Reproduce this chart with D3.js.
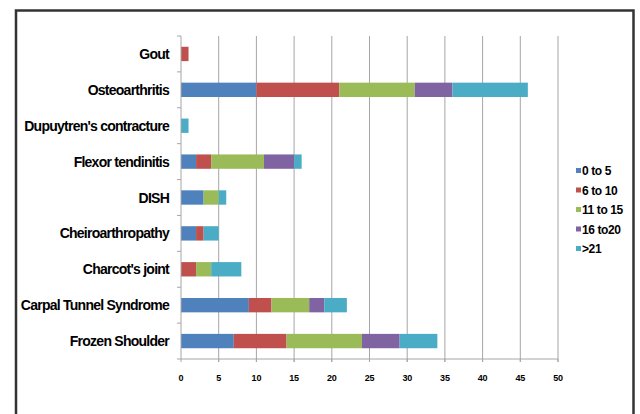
<!DOCTYPE html>
<html>
<head>
<meta charset="utf-8">
<script src="https://cdn.jsdelivr.net/npm/d3@7"></script>
<style>
body{margin:0;background:#fff;}
text{font-family:"Liberation Sans",Arial,sans-serif;font-weight:bold;fill:#000;}
</style>
</head>
<body>
<svg id="chart" width="640" height="414"></svg>
<script>
// categories, top to bottom
var categories = ["Gout","Osteoarthritis","Dupuytren's contracture","Flexor tendinitis","DISH","Cheiroarthropathy","Charcot's joint","Carpal Tunnel Syndrome","Frozen Shoulder"]
var seriesNames = ["0 to 5","6 to 10","11 to 15","16 to20",">21"]
var s0to5   = [0,10,0,2,3,2,0,9,7]
var s6to10  = [1,11,0,2,0,1,2,3,7]
var s11to15 = [0,10,0,7,2,0,2,5,10]
var s16to20 = [0,5,0,4,0,0,0,2,5]
var s21     = [0,10,1,1,1,2,4,3,5]
var xTicks = [0,5,10,15,20,25,30,35,40,45,50]
var colors = ["#4f81bd","#c0504d","#9bbb59","#8064a2","#4bacc6"]

var svg = d3.select("#chart")
var margin = {left:181, top:36, right:558, bottom:359}

// frame around the figure
svg.append("rect").attr("x",16).attr("y",10.5).attr("width",617.5).attr("height",420)
    .attr("fill","none").attr("stroke","#333").attr("stroke-width",2.5)

var x = d3.scaleLinear().domain([0,50]).range([margin.left, margin.right])
var y = d3.scaleBand().domain(categories).range([margin.top, margin.bottom]).paddingInner(0.6).paddingOuter(0.3)
var yb = d3.scaleBand().domain(categories).range([margin.top, margin.bottom])

var rows = categories.map((c,i) => ({cat:c, "0 to 5":s0to5[i], "6 to 10":s6to10[i], "11 to 15":s11to15[i], "16 to20":s16to20[i], ">21":s21[i]}))
var stacked = d3.stack().keys(seriesNames)(rows)

// vertical gridlines
svg.append("g").selectAll("line").data(xTicks.slice(1)).join("line")
    .attr("x1",d=>x(d)).attr("x2",d=>x(d)).attr("y1",margin.top).attr("y2",margin.bottom+3)
    .attr("stroke","#a6a6a6").attr("stroke-width",1)

// bars
svg.append("g").selectAll("g").data(stacked).join("g").attr("fill",(d,i)=>colors[i])
    .selectAll("rect").data(d=>d.filter(p=>p[1]>p[0])).join("rect")
    .attr("x",d=>x(d[0])).attr("width",d=>x(d[1])-x(d[0]))
    .attr("y",d=>y(d.data.cat)).attr("height",y.bandwidth())

// left axis line + ticks at category boundaries
var axL = svg.append("g")
axL.append("line").attr("x1",margin.left).attr("x2",margin.left).attr("y1",margin.top).attr("y2",margin.bottom).attr("stroke","#a6a6a6")
axL.selectAll(".tk").data(categories.concat(["end"])).join("line").attr("class","tk")
    .attr("x1",margin.left-4).attr("x2",margin.left)
    .attr("y1",(d,i)=>margin.top+i*yb.step()).attr("y2",(d,i)=>margin.top+i*yb.step())
    .attr("stroke","#a6a6a6")
axL.selectAll("text").data(categories).join("text")
    .attr("x",169).attr("y",d=>yb(d)+yb.bandwidth()/2+5)
    .attr("text-anchor","end").attr("font-size",14).attr("letter-spacing",-0.75)
    .text(d=>d)

// bottom axis
var axB = svg.append("g")
axB.append("line").attr("x1",margin.left).attr("x2",margin.right).attr("y1",margin.bottom).attr("y2",margin.bottom).attr("stroke","#a6a6a6")
axB.selectAll("line.tk").data(xTicks).join("line").attr("class","tk")
    .attr("x1",d=>x(d)).attr("x2",d=>x(d)).attr("y1",margin.bottom).attr("y2",margin.bottom+3).attr("stroke","#a6a6a6")
axB.selectAll("text").data(xTicks).join("text")
    .attr("x",d=>x(d)).attr("y",380.5).attr("text-anchor","middle")
    .attr("font-size",9).attr("letter-spacing",-0.2)
    .text(d=>d)

// legend
var lg = svg.append("g").selectAll("g").data(seriesNames).join("g")
    .attr("transform",(d,i)=>"translate(576,"+(171+i*19.5)+")")
lg.append("rect").attr("x",0).attr("y",-3).attr("width",5).attr("height",5).attr("fill",(d,i)=>colors[i])
lg.append("text").attr("x",6).attr("y",4).attr("font-size",12).attr("letter-spacing",-0.4).text(d=>d)
</script>
</body>
</html>
